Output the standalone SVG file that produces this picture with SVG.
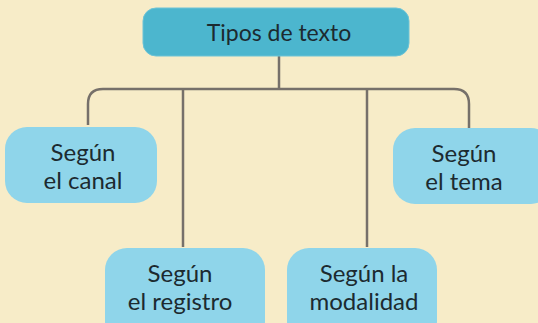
<svg xmlns="http://www.w3.org/2000/svg" width="538" height="323" viewBox="0 0 538 323">
<style>
.bg{fill:#f7ecc8}
.top{fill:#4cb6ce;stroke:#6cc3d6;stroke-width:1}
.sub{fill:#8fd5ea}
.t{font-family:"Lato","Liberation Sans",sans-serif;fill:#1c2a30;text-anchor:middle}
.tt{font-size:23px}
.ts{font-size:24px}
.c{fill:none;stroke:#76706a;stroke-width:2.5}
</style>
<rect class="bg" x="0" y="0" width="538" height="323"/>
<g id="connectors">
<path class="c" d="M279 55V89"/>
<path class="c" d="M88 125V104Q88 89 103 89H454Q469 89 469 104V128"/>
<path class="c" d="M183 89V247"/>
<path class="c" d="M367 89V247"/>
</g>
<g id="n-tipos">
<rect class="top" x="143" y="8" width="266" height="48" rx="13"/>
<text class="t tt" x="279" y="41">Tipos de texto</text>
</g>
<g id="n-canal">
<rect class="sub" x="5" y="127" width="152" height="76" rx="22"/>
<text class="t ts" x="83" y="161">Según</text>
<text class="t ts" x="83" y="189">el canal</text>
</g>
<g id="n-tema">
<rect class="sub" x="393" y="128" width="160" height="76" rx="22"/>
<text class="t ts" x="464" y="162">Según</text>
<text class="t ts" x="464" y="190">el tema</text>
</g>
<g id="n-registro">
<rect class="sub" x="105" y="248" width="160" height="95" rx="22"/>
<text class="t ts" x="180" y="282">Según</text>
<text class="t ts" x="180" y="310">el registro</text>
</g>
<g id="n-modalidad">
<rect class="sub" x="287" y="248" width="150" height="95" rx="22"/>
<text class="t ts" x="364" y="282">Según la</text>
<text class="t ts" x="364" y="310">modalidad</text>
</g>
</svg>
